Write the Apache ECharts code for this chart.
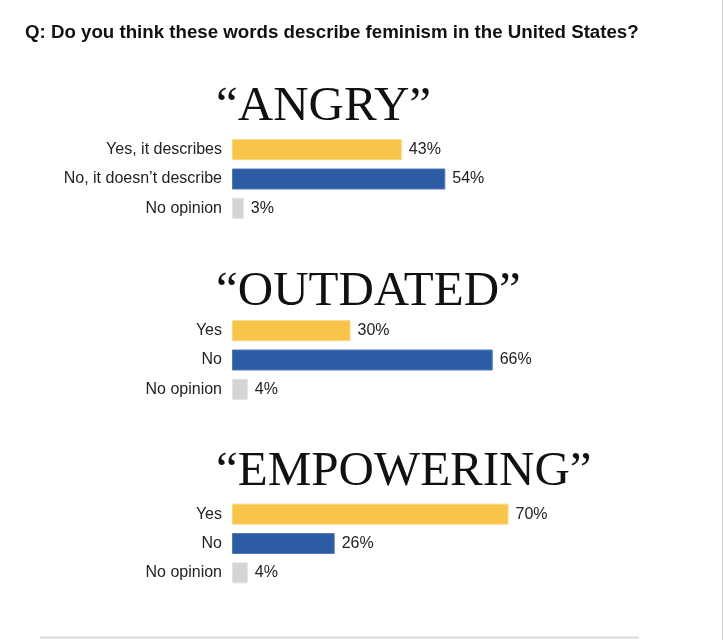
<!DOCTYPE html>
<html>
<head>
<meta charset="utf-8">
<style>
  html, body { margin: 0; padding: 0; background: #fff; }
  #chart { width: 723px; height: 640px; }
</style>
<script src="https://cdn.jsdelivr.net/npm/echarts@6/dist/echarts.min.js"></script>
</head>
<body>
<div id="chart"></div>
<script>
// ---- Data ----
const questionText = 'Q: Do you think these words describe feminism in the United States?';
const groupWords = ['“ANGRY”', '“OUTDATED”', '“EMPOWERING”'];
const groupCategories = [
  ['Yes, it describes', 'No, it doesn’t describe', 'No opinion'],
  ['Yes', 'No', 'No opinion'],
  ['Yes', 'No', 'No opinion']
];
const yesValues = [43, 30, 70];
const noValues = [54, 66, 26];
const noOpinionValues = [3, 4, 4];

// ---- Styles / layout ----
const rowColors = ['#F9C44A', '#2A5BA3', '#D4D4D0'];
const rowBorders = ['#FBD77F', '#5078B8', '#E2E2DF'];
const gridTops = [135, 316, 499.5];
const headTops = [82.5, 267.5, 447.5];
const sansFont = '"Liberation Sans", Arial, Helvetica, sans-serif';

const chart = echarts.init(document.getElementById('chart'), null, { renderer: 'canvas' });

const titles = [{
  text: questionText,
  left: 25,
  top: 23,
  padding: 0,
  textStyle: {
    fontFamily: '"Liberation Sans Narrow", "Arial Narrow", "Liberation Sans", sans-serif',
    fontWeight: 'bold',
    fontSize: 18.7,
    color: '#111'
  }
}];
const grids = [], xAxes = [], yAxes = [], series = [];

groupWords.forEach((w, i) => {
  titles.push({
    text: w,
    left: 216,
    top: headTops[i],
    padding: 0,
    textStyle: {
      fontFamily: '"Liberation Serif", "Times New Roman", serif',
      fontWeight: 'normal',
      fontSize: 49,
      color: '#111'
    }
  });
  grids.push({ left: 232, width: 395, top: gridTops[i], height: 88, containLabel: false });
  xAxes.push({
    gridIndex: i, type: 'value', min: 0, max: 100,
    show: false, splitLine: { show: false }
  });
  yAxes.push({
    gridIndex: i, type: 'category', inverse: true,
    data: groupCategories[i],
    axisLine: { show: false }, axisTick: { show: false }, splitLine: { show: false },
    axisLabel: { margin: 10, fontSize: 16, color: '#222', fontFamily: sansFont }
  });
  const vals = [yesValues[i], noValues[i], noOpinionValues[i]];
  series.push({
    type: 'bar',
    xAxisIndex: i, yAxisIndex: i,
    barWidth: 21,
    data: vals.map((v, k) => ({
      value: v,
      itemStyle: { color: rowColors[k], borderColor: rowBorders[k], borderWidth: 1 }
    })),
    label: {
      show: true, position: 'right', distance: 7,
      formatter: '{c}%', fontSize: 16, color: '#222', fontFamily: sansFont
    },
    animation: false,
    silent: true
  });
});

chart.setOption({
  animation: false,
  backgroundColor: '#fff',
  title: titles,
  grid: grids,
  xAxis: xAxes,
  yAxis: yAxes,
  series: series,
  graphic: [
    { type: 'line', shape: { x1: 40, y1: 637.5, x2: 639, y2: 637.5 }, style: { stroke: '#DADADA', lineWidth: 2 }, silent: true },
    { type: 'line', shape: { x1: 722.5, y1: 0, x2: 722.5, y2: 640 }, style: { stroke: '#CFCFCF', lineWidth: 1 }, silent: true }
  ]
});
</script>
</body>
</html>
